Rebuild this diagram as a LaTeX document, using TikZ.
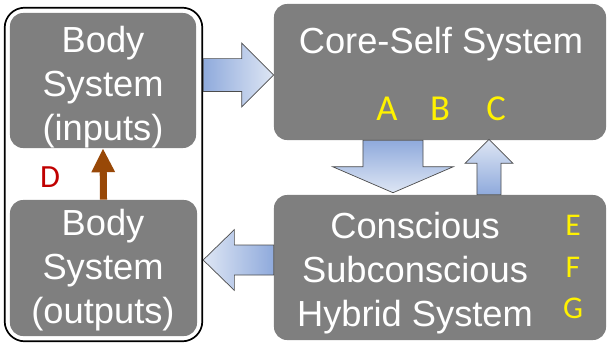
\documentclass[tikz,border=0pt]{standalone}
\usepackage{fontspec}
\setmainfont{Liberation Sans}
\newfontfamily\letfont{Carlito}
\usetikzlibrary{calc,fit,arrows.meta}
\definecolor{boxgray}{RGB}{127,127,127}
\definecolor{arrdark}{RGB}{143,170,220}
\definecolor{arrlight}{RGB}{222,230,244}
\definecolor{arrbrown}{RGB}{152,72,7}
\definecolor{lblred}{RGB}{192,0,0}
\tikzset{
	sysbox/.style={fill=boxgray, rounded corners=0.33cm, inner sep=0pt},
	systext/.style={text=white, align=center, font=\fontsize{25.8}{31.3}\selectfont},
	letter/.style={text=yellow, anchor=base},
	blkarrow/.style={draw=black!70, line width=0.5pt, line join=miter},
	brownarr/.style={draw=arrbrown, line width=5pt, -{Triangle[width=15.6pt,length=17pt]}}
}
% block arrow: options, tail, tip, shaft half width, head half width, head length
\newcommand{\blockarrow}[6]{%
	\coordinate (hd) at ($(#3)!#6!(#2)$);
	\shadedraw[blkarrow,#1] ($(#2)!#4!90:(#3)$) -- ($(hd)!#4!90:(#3)$) -- ($(hd)!#5!90:(#3)$) -- (#3)
		-- ($(hd)!#5!-90:(#3)$) -- ($(hd)!#4!-90:(#3)$) -- ($(#2)!#4!-90:(#3)$) -- cycle;
}

\begin{document}
\begin{tikzpicture}[x=0.025cm, y=-0.025cm, line join=round]
	\useasboundingbox (0,0) rectangle (607,345);
	% the four system boxes
	\node[sysbox, minimum width=4.65cm, minimum height=3.375cm] (inp) at (103,80.5) {};
	\node[sysbox, minimum width=4.675cm, minimum height=3.4cm] (outp) at (103.5,268) {};
	\node[sysbox, minimum width=8.3cm, minimum height=3.4cm] (core) at (440,72) {};
	\node[sysbox, minimum width=8.3cm, minimum height=3.625cm] (hyb) at (440,267.5) {};
	\node[draw, line width=1.2pt, rounded corners=0.5cm, inner sep=3.56pt, fit=(inp)(outp)] (frame) {};
	% texts
	\node[systext] (inptxt) at (103,87.5) {Body\\System\\(inputs)};
	\node[systext] (outptxt) at (103,270) {Body\\System\\(outputs)};
	\node[systext, anchor=base] (coretxt) at (441,53) {Core-Self System};
	\node[systext] (hybtxt) at (415,273.5) {Conscious\\Subconscious\\Hybrid System};
	\node[letter, font=\letfont\fontsize{26}{30}\selectfont] (la) at (387,120) {A};
	\node[letter, font=\letfont\fontsize{26}{30}\selectfont] (lb) at (440,120) {B};
	\node[letter, font=\letfont\fontsize{26}{30}\selectfont] (lc) at (496,120) {C};
	\node[letter, font=\letfont\fontsize{22.5}{26}\selectfont] (le) at (573,235) {E};
	\node[letter, font=\letfont\fontsize{22.5}{26}\selectfont] (lf) at (573,277) {F};
	\node[letter, font=\letfont\fontsize{22.5}{26}\selectfont] (lg) at (573,318) {G};
	\node[text=lblred, anchor=base, font=\letfont\fontsize{23}{26}\selectfont] (ld) at (50,187) {D};
	% arrows
	\draw[brownarr] (outp.north) -- (inp.south);
	\coordinate (ra) at (frame.east |- 0,75);
	\coordinate (rb) at (core.west |- 0,75);
	\blockarrow{left color=arrdark, right color=arrlight}{ra}{rb}{0.41cm}{0.8cm}{0.8cm}
	\coordinate (la1) at (hyb.west |- 0,260);
	\coordinate (la2) at (frame.east |- 0,260);
	\blockarrow{left color=arrlight, right color=arrdark}{la1}{la2}{0.375cm}{0.76cm}{0.78cm}
	\coordinate (da) at ($(core.south)+(-47,0)$);
	\coordinate (db) at ($(hyb.north)+(-47,-2)$);
	\blockarrow{top color=arrdark, bottom color=arrlight}{da}{db}{0.75cm}{1.51cm}{0.65cm}
	\coordinate (ua) at ($(hyb.north)+(49,0)$);
	\coordinate (ub) at ($(core.south)+(49,-1)$);
	\blockarrow{top color=arrlight, bottom color=arrdark}{ua}{ub}{0.3cm}{0.6cm}{0.6cm}
\end{tikzpicture}
\end{document}
